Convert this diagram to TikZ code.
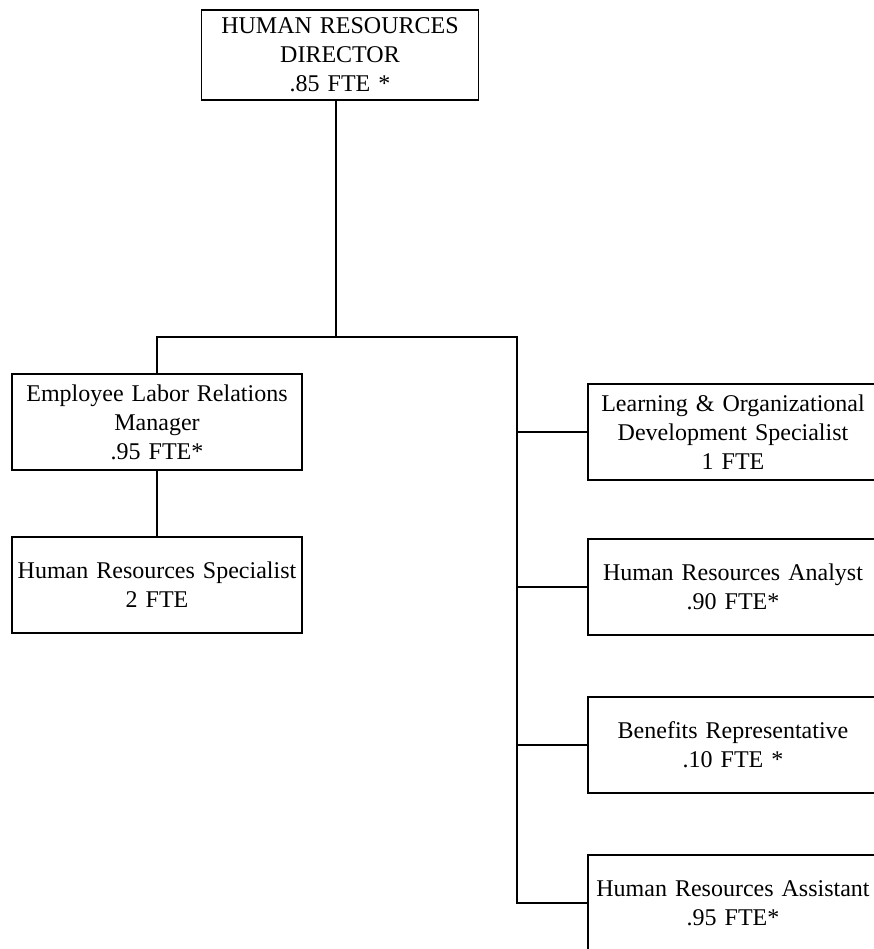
\documentclass[tikz,border=0pt]{standalone}
\usepackage{fontspec}
\setmainfont{Liberation Serif}
\usetikzlibrary{calc}

\tikzset{
	post/.style={
		draw,
		line width=1.8pt,
		minimum width=290pt,
		minimum height=96pt,
		text width=284pt,
		align=center,
		inner sep=2pt,
		font=\fontsize{24}{29}\selectfont,
	},
	link/.style={line width=1.8pt},
}

\begin{document}
\begin{tikzpicture}[x=1pt,y=1pt]
	\useasboundingbox (0,0) rectangle (874,-949);
	\clip (0,0) rectangle (874,-949);
	% top of the chart
	\node[post, minimum width=277pt, text width=270pt, minimum height=90pt] (dir) at (340,-55)
		{HUMAN RESOURCES\\DIRECTOR\\.85 FTE *};
	% left branch
	\node[post] (mgr) at (157,-422) {Employee Labor Relations\\Manager\\.95 FTE*};
	\node[post] (spec) at (157,-585) {Human Resources Specialist\\2 FTE};
	% right branch
	\foreach \name/\y/\txt in {
		r1/-432/{Learning \& Organizational\\Development Specialist\\1 FTE},
		r2/-587/{Human Resources Analyst\\.90 FTE*},
		r3/-745/{Benefits Representative\\.10 FTE *},
		r4/-903/{Human Resources Assistant\\.95 FTE*}}{
		\node[post] (\name) at (733,\y) {\txt};
	}
	\coordinate (hub) at (336,-337);
	\coordinate (spine) at (517,-337);
	\draw[link] (dir.south -| hub) -- (hub);
	\draw[link] (mgr) |- (spine) -- (spine |- r4.west) -- (r4.west);
	\draw[link] (mgr) -- (spec);
	\foreach \i in {1,...,3}{
		\draw[link] (spine |- r\i.west) -- (r\i.west);
	}
\end{tikzpicture}
\end{document}
